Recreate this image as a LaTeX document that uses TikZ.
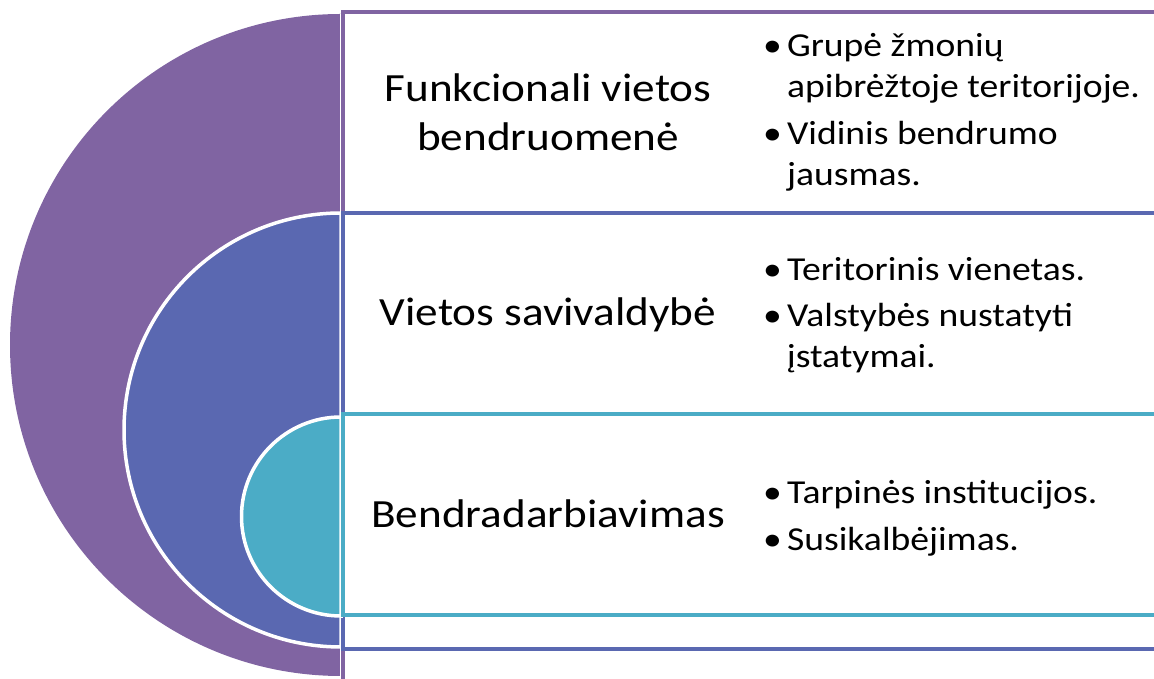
\documentclass[tikz,border=0pt]{standalone}
\usepackage{fontspec}
\setmainfont{Carlito}
\definecolor{cpurple}{RGB}{128,100,162}
\definecolor{cblue}{RGB}{90,104,177}
\definecolor{cteal}{RGB}{75,172,198}
\tikzset{
  half/.style={draw=white, line width=3.5pt},
  band/.style={line width=4pt, fill=white},
  big/.style={font=\fontsize{40}{49}\selectfont, align=center, inner sep=0pt, xscale=1.13, transform shape},
  bul/.style={font=\fontsize{33.5}{41}\selectfont, anchor=base west, inner sep=0pt, xscale=1.123, transform shape}
}
\newcommand{\bitem}[1]{\makebox[21.3pt][l]{•}\parbox[t]{400pt}{#1}}
\begin{document}
\begin{tikzpicture}[x=1pt,y=1pt]
\useasboundingbox (0,0) rectangle (1154,679);
\clip (0,0) rectangle (1154,679);
% purple
\fill[cpurple] (341,665) arc[start angle=90,end angle=270,radius=331] -- cycle;
\draw[white, line width=1.5pt] (341,665) -- (341,0);
\draw[band, draw=cpurple] (343,666.5) rectangle (1170,-20);
% blue
\filldraw[half, fill=cblue] (341,466) arc[start angle=90,end angle=270,radius=217] -- cycle;
\draw[band, draw=cblue] (343,466) rectangle (1170,29.5);
% teal
\filldraw[half, fill=cteal] (341,262) arc[start angle=90,end angle=270,radius=99.5] -- cycle;
\draw[band, draw=cteal] (343,264.5) rectangle (1170,63.5);
% texts
\node[big] (t1) at (548,566.5) {Funkcionali vietos\\bendruomenė};
\node[big, anchor=base] (t2) at (548,353) {Vietos savivaldybė};
\node[big, anchor=base] (t3) at (548,151) {Bendradarbiavimas};
\node[bul] (b1) at (763,622) {\bitem{Grupė žmonių\\apibrėžtoje teritorijoje.}};
\node[bul] (b2) at (763,534) {\bitem{Vidinis bendrumo\\jausmas.}};
\node[bul] (b3) at (763,398) {\bitem{Teritorinis vienetas.}};
\node[bul] (b4) at (763,352) {\bitem{Valstybės nustatyti\\įstatymai.}};
\node[bul] (b5) at (763,175) {\bitem{Tarpinės institucijos.}};
\node[bul] (b6) at (763,128) {\bitem{Susikalbėjimas.}};
\end{tikzpicture}
\end{document}
